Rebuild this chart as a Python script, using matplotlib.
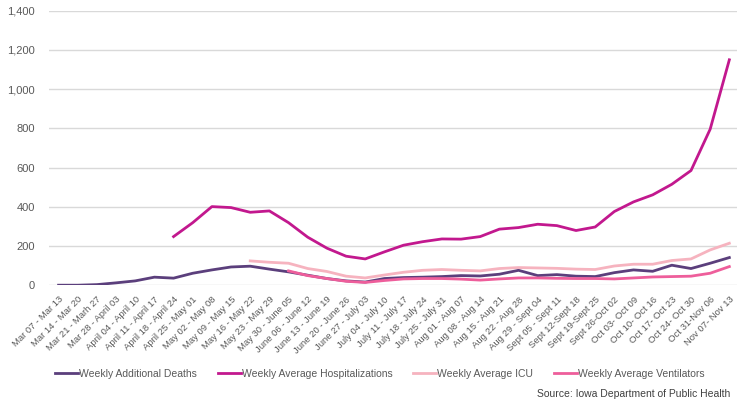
import numpy as np
import matplotlib
matplotlib.use("Agg")
import matplotlib.pyplot as plt
from matplotlib.ticker import FuncFormatter

weeks = ['Mar 07 - Mar 13', 'Mar 14 - Mar 20', 'Mar 21 - Marh 27', 'Mar 28 - April 03',
         'April 04 - April 10', 'April 11 - April 17', 'April 18 - April 24', 'April 25 - May 01',
         'May 02 - May 08', 'May 09 - May 15', 'May 16 - May 22', 'May 23 - May 29',
         'May 30 - June 05', 'June 06 - June 12', 'June 13 - June 19', 'June 20 - June 26',
         'June 27 - July 03', 'July 04 - July 10', 'July 11 - July 17', 'July 18 - July 24',
         'July 25 - July 31', 'Aug 01 - Aug 07', 'Aug 08 - Aug 14', 'Aug 15 - Aug 21',
         'Aug 22 - Aug 28', 'Aug 29 - Sept 04', 'Sept 05 - Sept 11', 'Sept 12-Sept 18',
         'Sept 19-Sept 25', 'Sept 26-Oct 02', 'Oct 03- Oct 09', 'Oct 10- Oct 16',
         'Oct 17- Oct 23', 'Oct 24- Oct 30', 'Oct 31-Nov 06', 'Nov 07- Nov 13']

nan = np.nan
deaths = [0, 0, 3, 12, 22, 41, 36, 61, 78, 93, 97, 82, 68, 51, 34, 22, 16,
          34, 39, 41, 44, 49, 47, 56, 76, 49, 54, 46, 44, 64, 78, 71, 102, 85, 112, 141]
hosp = [nan, nan, nan, nan, nan, nan, 248, 319, 401, 396, 372, 379, 319, 245, 189, 148, 134,
        170, 204, 222, 236, 235, 248, 286, 294, 311, 304, 279, 297, 376, 425, 461, 515, 585, 796, 1150]
icu = [nan] * 10 + [124, 117, 112, 85, 70, 46, 37,
                    52, 66, 76, 80, 76, 73, 85, 90, 88, 86, 82, 80, 98, 107, 107, 126, 134, 180, 214]
vent = [nan] * 12 + [73, 49, 34, 20, 14,
                     24, 32, 34, 34, 31, 26, 32, 37, 37, 35, 34, 34, 32, 37, 42, 44, 46, 61, 95]

x = np.arange(len(weeks))
txt = '#595959'
plt.rcParams['font.family'] = ['Liberation Sans', 'DejaVu Sans']

fig = plt.figure(figsize=(7.37, 4.0), dpi=100)
ax = fig.add_axes([49 / 737, 0.287, 1 - 49 / 737, 0.686])

ax.plot(x, deaths, color='#5B3F7C', lw=2, label='Weekly Additional Deaths')
ax.plot(x, hosp, color='#C2188E', lw=2, label='Weekly Average Hospitalizations')
ax.plot(x, icu, color='#F6B3BF', lw=2, label='Weekly Average ICU')
ax.plot(x, vent, color='#EE5E9B', lw=2, label='Weekly Average Ventilators')

ax.set_ylim(0, 1400)
ax.set_yticks(range(0, 1401, 200))
ax.yaxis.set_major_formatter(FuncFormatter(lambda v, p: f'{int(v):,}'))
ax.set_xlim(-0.5, 35.4)
ax.set_xticks(x)
ax.set_xticklabels(weeks, rotation=45, ha='right', rotation_mode='anchor', fontsize=6.8, color=txt)
ax.tick_params(axis='y', length=0, pad=10, labelsize=8, labelcolor=txt)
ax.tick_params(axis='x', length=0, pad=7)
ax.grid(axis='y', color='#d9d9d9', lw=1)
ax.set_axisbelow(True)
for s in ax.spines.values():
    s.set_visible(False)

fig.legend(loc='center', bbox_to_anchor=(380 / 737, 1 - 374 / 400), ncol=4, frameon=False,
           fontsize=7.5, labelcolor=txt, handlelength=2.2, handletextpad=0.1, columnspacing=2.0)
fig.text(730 / 737, 1 - 394 / 400, 'Source: Iowa Department of Public Health', ha='right',
         va='center', fontsize=7.5, color='#404040')

fig.savefig('out.png', dpi=100)
